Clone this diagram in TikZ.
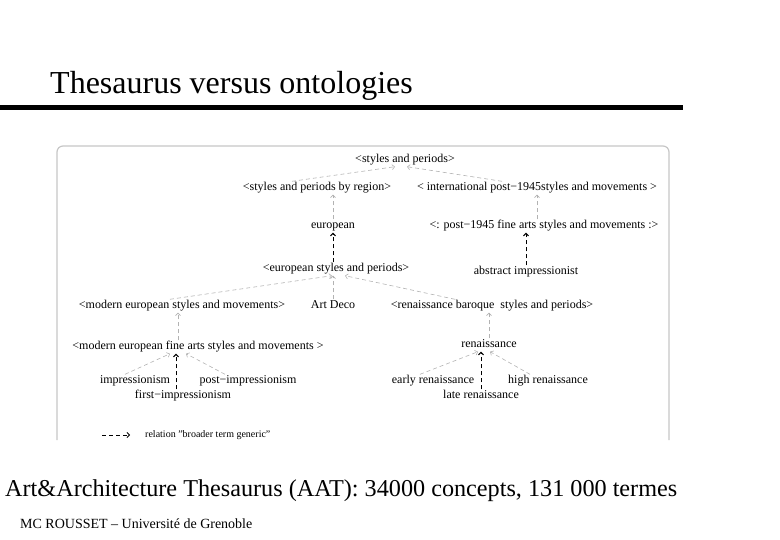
\documentclass[tikz,border=0pt]{standalone}
\usepackage{fontspec}
\setmainfont{Liberation Serif}
\usetikzlibrary{arrows.meta,positioning}

\begin{document}
\begin{tikzpicture}[
  x=1pt, y=-1pt,
  term/.style={inner sep=1pt, text height=8.5pt, text depth=2.5pt,
               font=\fontsize{12}{13}\selectfont},
  bt/.style={-{Straight Barb[length=2.5pt,width=5pt]}, gray!60,
             line width=0.6pt, dash pattern=on 4pt off 3pt},
  btk/.style={bt, black, line width=1pt}
]
\useasboundingbox (0,0) rectangle (780,540);

\node[anchor=base west, inner sep=0pt, font=\fontsize{32}{34}\selectfont] (title) at (50,94) {Thesaurus versus ontologies};
\draw[line width=5pt] (0,108) -- (683,108);
\draw[gray!45, line width=1.2pt, rounded corners=6pt] (57,440) -- (57,146) -- (669,146) -- (669,440);

\node[term] (sp) at (405,160) {<styles and periods>};
\node[term] (spr) at (317,188) {<styles and periods by region>};
\node[term] (ipost) at (537,188) {< international post−1945styles and movements >};
\node[term] (eur) at (333,226) {european};
\node[term] (pfa) at (544,226) {<: post−1945 fine arts styles and movements :>};
\node[term] (esp) at (336,269) {<european styles and periods>};
\node[term] (abs) at (526,272) {abstract impressionist};
\node[term] (mesm) at (182,306) {<modern european styles and movements>};
\node[term] (deco) at (333,306) {Art Deco};
\node[term] (rbsp) at (492,306) {<renaissance baroque~ styles and periods>};
\node[term] (mefa) at (198,347) {<modern european fine arts styles and movements >};
\node[term] (ren) at (489,345) {renaissance};
\node[term] (imp) at (135,381) {impressionism};
\node[term] (post) at (248,381) {post−impressionism};
\node[term] (first) at (183,396) {first−impressionism};
\node[term] (early) at (433,381) {early renaissance};
\node[term] (high) at (548,381) {high renaissance};
\node[term] (late) at (481,396) {late renaissance};

\draw[bt] ([xshift=-25pt]spr.north) -- ([xshift=-10pt]sp.south);
\draw[bt] ([xshift=-35pt]ipost.north) -- ([xshift=2pt]sp.south);
\draw[bt] (eur.north) -- (eur.north |- spr.south);
\draw[bt] (ipost.south |- pfa.north) -- (ipost.south);
\draw[btk] (esp.north -| eur.south) -- (eur.south);
\draw[btk] (abs.north) -- (abs.north |- pfa.south);
\draw[bt] ([xshift=-12pt]mesm.north) -- ([xshift=-4pt]esp.south);
\draw[bt] (deco.north) -- (deco.north |- esp.south);
\draw[bt] ([xshift=-37pt]rbsp.north) -- ([xshift=9pt]esp.south);
\draw[bt] ([xshift=-4pt]mesm.south |- mefa.north) -- ([xshift=-4pt]mesm.south);
\draw[bt] (ren.north) -- (ren.north |- rbsp.south);
\draw[bt] ([xshift=-10pt]imp.north) -- ([xshift=-28pt]mefa.south);
\draw[btk] ([xshift=-22pt]mefa.south |- first.north) -- ([xshift=-22pt]mefa.south);
\draw[bt] ([xshift=-23pt]post.north) -- ([xshift=-12pt]mefa.south);
\draw[bt] ([xshift=-13pt]early.north) -- ([xshift=-11pt]ren.south);
\draw[btk] (late.north) -- (late.north |- ren.south);
\draw[bt] ([xshift=-18pt]high.north) -- ([xshift=1pt]ren.south);

\coordinate (lga) at (102,435);
\coordinate (lgb) at (130,435);
\draw[btk, line width=0.8pt] (lga) -- (lgb);
\node[anchor=west, inner sep=0pt, font=\fontsize{10}{11}\selectfont] (lgtxt) at (145,435) {relation "broader term generic"};

\node[anchor=base west, inner sep=0pt, font=\fontsize{24.2}{26}\selectfont] (aat) at (5,496) {Art\&Architecture Thesaurus (AAT): 34000 concepts, 131 000 termes};
\node[anchor=base west, inner sep=0pt, font=\fontsize{14}{15}\selectfont] (foot) at (20,528) {MC ROUSSET – Université de Grenoble};
\end{tikzpicture}
\end{document}
